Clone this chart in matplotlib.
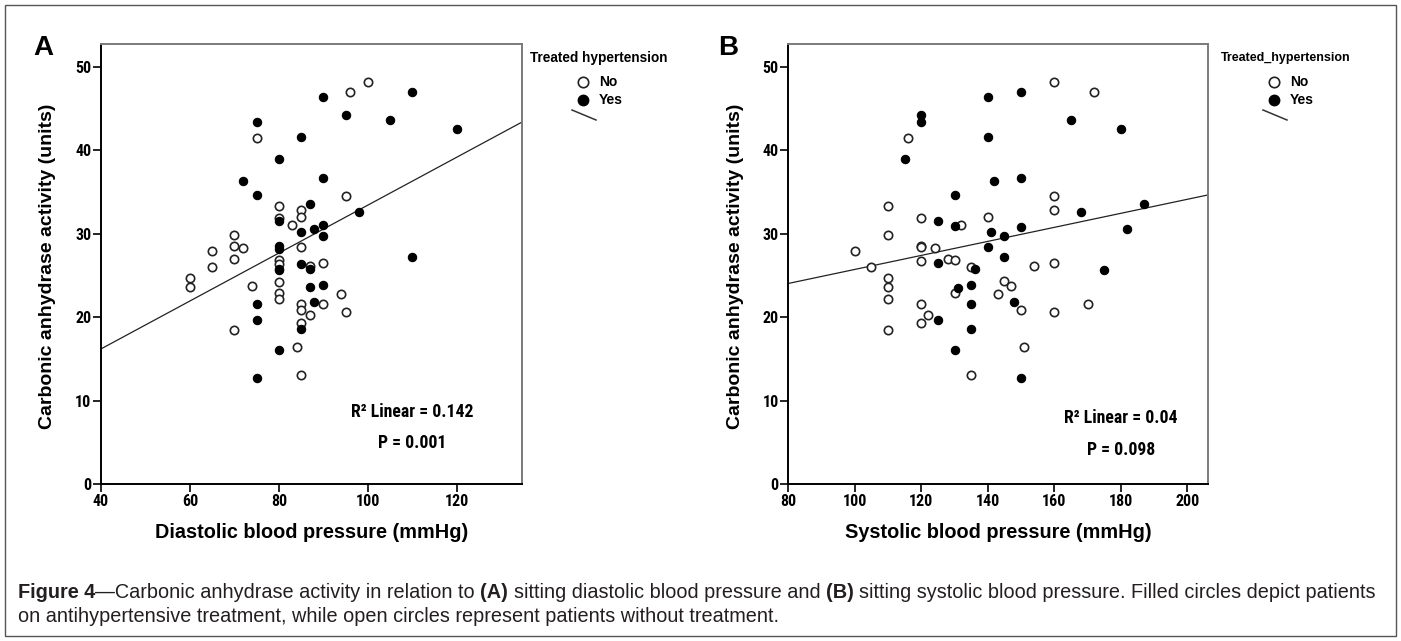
import matplotlib
matplotlib.use('Agg')
import matplotlib.pyplot as plt
from matplotlib import font_manager
from matplotlib.lines import Line2D
from matplotlib.patches import Rectangle
import numpy as np

W, H = 1401, 641

# ---- data ----
# panel A: diastolic BP vs CA activity
dia_no = [100, 96, 75, 95, 80, 85, 85, 80, 83, 70, 70, 72, 65, 85, 70, 65, 80, 80,
          87, 90, 60, 60, 74, 80, 80, 80, 94, 90, 85, 85, 87, 95, 85, 70, 84, 85]
ca_dia_no = [48.1, 46.9, 41.5, 34.5, 33.3, 32.8, 32.0, 31.9, 31.0, 29.8, 28.5, 28.3,
             27.9, 28.4, 26.9, 26.0, 26.8, 26.4, 26.1, 26.5, 24.7, 23.6, 23.7, 24.2,
             22.9, 22.1, 22.7, 21.6, 21.6, 20.8, 20.3, 20.6, 19.3, 18.5, 16.4, 13.1]
dia_yes = [90, 110, 95, 105, 75, 120, 85, 80, 72, 90, 75, 87, 98, 80, 90, 88, 85,
           90, 80, 80, 110, 85, 87, 80, 80, 87, 90, 88, 75, 75, 85, 80, 75]
ca_dia_yes = [46.4, 47.0, 44.2, 43.6, 43.4, 42.5, 41.6, 38.9, 36.3, 36.6, 34.6, 33.5,
              32.6, 31.5, 31.0, 30.5, 30.2, 29.7, 28.5, 28.2, 27.2, 26.4, 25.7, 25.8,
              25.6, 23.6, 23.8, 21.8, 21.5, 19.6, 18.6, 16.0, 12.7]
fit_A = [4.7, 0.287]  # intercept, slope

# panel B: systolic BP vs CA activity
sys_no = [100, 105, 110, 110, 116, 120, 120, 120, 124, 120, 128, 130, 132, 135, 140,
          154, 160, 160, 160, 160, 172, 110, 110, 110, 110, 120, 122, 120, 130, 135,
          143, 145, 147, 150, 151, 160, 170]
ca_sys_no = [27.9, 26.0, 33.3, 29.8, 41.5, 31.8, 28.5, 28.4, 28.3, 26.7, 26.9, 26.8,
             31.0, 26.0, 32.0, 26.1, 48.1, 34.5, 32.8, 26.5, 46.9, 24.7, 23.6, 22.1,
             18.5, 21.6, 20.3, 19.3, 22.9, 13.1, 22.7, 24.3, 23.7, 20.8, 16.4, 20.6, 21.6]
sys_yes = [115, 120, 120, 125, 125, 130, 130, 136, 140, 140, 142, 141, 140, 145, 145,
           150, 150, 150, 165, 180, 187, 168, 182, 175, 125, 131, 135, 135, 135, 130,
           148, 150]
ca_sys_yes = [38.9, 44.2, 43.4, 31.5, 26.5, 34.6, 30.9, 25.8, 46.4, 41.6, 36.3, 30.2,
              28.4, 29.7, 27.2, 47.0, 36.6, 30.8, 43.6, 42.5, 33.5, 32.6, 30.5, 25.6,
              19.6, 23.5, 23.8, 21.5, 18.6, 16.0, 21.8, 12.7]
fit_B = [17.3, 0.084]

y_ticks = [0, 10, 20, 30, 40, 50]
x_ticks_A = [40, 60, 80, 100, 120]
x_ticks_B = [80, 100, 120, 140, 160, 180, 200]

names = {f.name for f in font_manager.fontManager.ttflist}
narrow = 'Liberation Sans'
for cand in ['Liberation Sans Narrow', 'Arial Narrow', 'Roboto Condensed']:
    if cand in names:
        narrow = cand
        break
plt.rcParams['font.family'] = ['Liberation Sans', 'DejaVu Sans']

fig = plt.figure(figsize=(W / 100, H / 100), dpi=100)


def fx(px):
    return px / W


def fy(py):
    return 1 - py / H


def panel(left, right, xlim, xticks, xn, yn, xy, yy, fit, xlabel, stats, stat_x,
          stat_y, leg_title, leg_x, leg_size, letter, letter_x):
    ax = fig.add_axes([fx(left), fy(484), fx(right) - fx(left), fy(44) - fy(484)])
    xs = np.array(xlim, dtype=float)
    ax.plot(xs, fit[0] + fit[1] * xs, color='#222222', lw=0.9, zorder=2)
    ax.scatter(xn, yn, s=36, facecolors='white', edgecolors='#222222',
               linewidths=1.2, zorder=3)
    ax.scatter(xy, yy, s=36, facecolors='black', edgecolors='black',
               linewidths=0.8, zorder=3)
    ax.set_xlim(xlim)
    ax.set_ylim(0, 52.7)
    ax.set_xticks(xticks)
    ax.set_yticks(y_ticks)
    for s in ['left', 'bottom']:
        ax.spines[s].set_color('black')
        ax.spines[s].set_linewidth(1.4)
    for s in ['top', 'right']:
        ax.spines[s].set_color('#7a7a7a')
        ax.spines[s].set_linewidth(1.4)
    ax.tick_params(direction='out', length=6, width=1.2, pad=1, labelsize=11.5)
    for lab in ax.get_xticklabels() + ax.get_yticklabels():
        lab.set_fontfamily(narrow)
        lab.set_fontweight('bold')
    cx = (left + right) / 2
    fig.text(fx(cx), fy(532), xlabel, ha='center', va='center', fontsize=14.3,
             fontweight='bold')
    fig.text(fx(left - 53), fy(266), 'Carbonic anhydrase activity (units)',
             ha='center', va='center', rotation=90, fontsize=14.0, fontweight='bold')
    for txt, sy in zip(stats, stat_y):
        fig.text(fx(stat_x), fy(sy), txt, ha='center', va='center', fontsize=12.8,
                 fontweight='bold', family=narrow)
    fig.text(fx(letter_x), fy(48), letter, ha='left', va='center', fontsize=20,
             fontweight='bold')
    # legend
    fig.text(fx(leg_x), fy(58), leg_title, ha='left', va='center', fontsize=leg_size,
             fontweight='bold')
    mx = leg_x + 53
    fig.add_artist(Line2D([fx(mx)], [fy(82)], marker='o', ms=7.5, mfc='white',
                          mec='#222222', mew=1.2, ls='none'))
    fig.add_artist(Line2D([fx(mx)], [fy(100)], marker='o', ms=7.5, mfc='black',
                          mec='black', ls='none'))
    fig.text(fx(mx + 16), fy(82), 'No', ha='left', va='center', fontsize=10,
             fontweight='bold')
    fig.text(fx(mx + 16), fy(100), 'Yes', ha='left', va='center', fontsize=10,
             fontweight='bold')
    fig.add_artist(Line2D([fx(mx - 11), fx(mx + 13)], [fy(110), fy(120)],
                          color='#333333', lw=1.1))
    return ax


panel(101, 521.7, (40, 134.6), x_ticks_A, dia_no, ca_dia_no, dia_yes, ca_dia_yes,
      fit_A, 'Diastolic blood pressure (mmHg)',
      ['R\u00b2 Linear = 0.142', 'P = 0.001'], 412, [412, 443],
      'Treated hypertension', 530, 9.8, 'A', 33)
panel(788.3, 1208.3, (80, 206.3), x_ticks_B, sys_no, ca_sys_no, sys_yes, ca_sys_yes,
      fit_B, 'Systolic blood pressure (mmHg)',
      ['R\u00b2 Linear = 0.04', 'P = 0.098'], 1121, [418, 450],
      'Treated_hypertension', 1221, 9.0, 'B', 718)

# caption with mixed weights
renderer = fig.canvas.get_renderer()
cap_col = '#231f20'
cap_size = 14.3


def width_of(txt, bold):
    t = fig.text(0, 0, txt, fontsize=cap_size, fontweight='bold' if bold else 'normal')
    w = t.get_window_extent(renderer=renderer).width
    t.remove()
    return w


space = width_of('a a', False) - width_of('aa', False)


def rich(x_px, y_px, parts):
    x = x_px
    for txt, bold, gap in parts:
        t = fig.text(fx(x), fy(y_px), txt, fontsize=cap_size, color=cap_col,
                     fontweight='bold' if bold else 'normal', ha='left', va='center')
        x += t.get_window_extent(renderer=renderer).width + (space if gap else 0)


rich(18, 593, [('Figure 4', True, False),
               ('\u2014Carbonic anhydrase activity in relation to', False, True),
               ('(A)', True, True),
               ('sitting diastolic blood pressure and', False, True),
               ('(B)', True, True),
               ('sitting systolic blood pressure. Filled circles depict patients', False, False)])
rich(18, 617, [('on antihypertensive treatment, while open circles represent patients without treatment.', False, False)])

fig.patches.append(Rectangle((fx(5), fy(636)), fx(1396) - fx(5), fy(5) - fy(636),
                             transform=fig.transFigure, fill=False, ec='#555555',
                             lw=1.0))

fig.savefig('out.png', dpi=100)
